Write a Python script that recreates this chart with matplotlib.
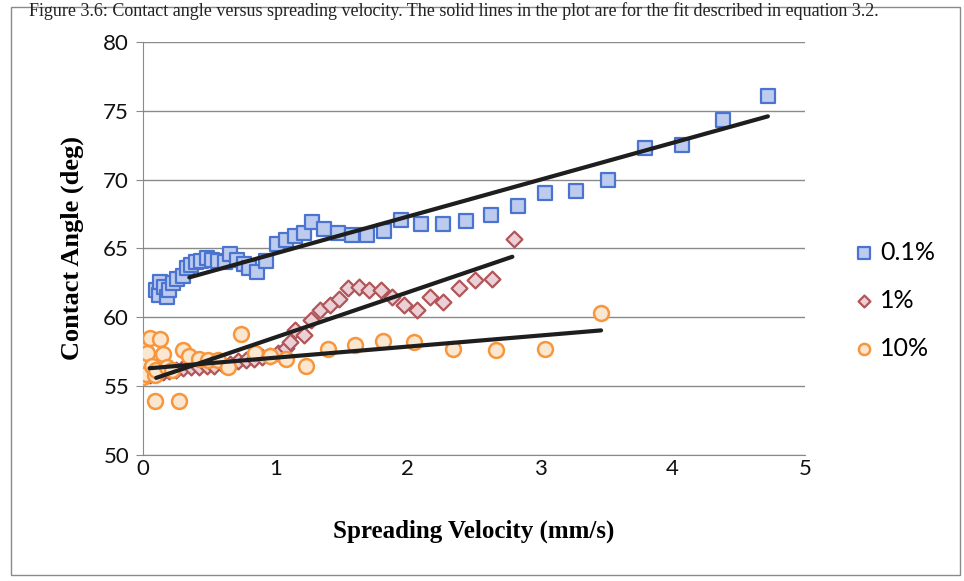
import matplotlib
matplotlib.use("Agg")
import matplotlib.pyplot as plt
from matplotlib.patches import Rectangle

# Data
blue_x = [0.10, 0.12, 0.13, 0.16, 0.18, 0.20, 0.23, 0.26, 0.30, 0.33, 0.36, 0.40, 0.44, 0.48,
          0.52, 0.57, 0.62, 0.66, 0.71, 0.76, 0.80, 0.86, 0.93, 1.01, 1.08, 1.15, 1.22, 1.28,
          1.37, 1.47, 1.58, 1.69, 1.82, 1.95, 2.10, 2.27, 2.44, 2.63, 2.83, 3.04, 3.27, 3.51,
          3.79, 4.07, 4.38, 4.72]
blue_y = [62.0, 61.6, 62.6, 62.2, 61.5, 62.0, 62.5, 62.8, 63.0, 63.6, 63.8, 64.0, 64.1, 64.3,
          64.2, 64.1, 64.0, 64.6, 64.2, 63.9, 63.6, 63.3, 64.1, 65.3, 65.6, 65.9, 66.1, 66.9,
          66.4, 66.1, 66.0, 66.0, 66.3, 67.1, 66.8, 66.8, 67.0, 67.4, 68.1, 69.0, 69.2, 70.0,
          72.3, 72.5, 74.3, 76.1]

red_x = [0.05, 0.10, 0.15, 0.20, 0.25, 0.30, 0.36, 0.42, 0.48, 0.54, 0.60, 0.66, 0.72, 0.78,
         0.84, 0.90, 0.96, 1.02, 1.08, 1.11, 1.15, 1.22, 1.27, 1.34, 1.41, 1.48, 1.55, 1.63,
         1.71, 1.80, 1.88, 1.97, 2.07, 2.17, 2.27, 2.39, 2.51, 2.64, 2.80]
red_y = [55.8, 55.9, 56.0, 56.1, 56.2, 56.3, 56.4, 56.4, 56.5, 56.5, 56.6, 56.6, 56.8, 56.9,
         57.0, 57.1, 57.2, 57.4, 57.8, 58.2, 59.1, 58.7, 59.8, 60.5, 60.9, 61.3, 62.1, 62.2,
         62.0, 62.0, 61.5, 60.9, 60.5, 61.5, 61.1, 62.1, 62.7, 62.8, 65.7]

orange_x = [0.00, 0.00, 0.01, 0.01, 0.02, 0.03, 0.05, 0.07, 0.09, 0.09, 0.10, 0.13, 0.15, 0.18,
            0.22, 0.27, 0.30, 0.35, 0.42, 0.49, 0.57, 0.64, 0.74, 0.85, 0.96, 1.08, 1.23, 1.40,
            1.60, 1.81, 2.05, 2.34, 2.67, 3.04, 3.46]
orange_y = [55.7, 56.3, 56.9, 57.6, 55.9, 57.4, 58.5, 56.5, 55.8, 53.9, 56.2, 58.4, 57.3, 56.4,
            56.2, 53.9, 57.6, 57.2, 57.0, 56.9, 56.9, 56.4, 58.8, 57.4, 57.2, 57.0, 56.5, 57.7,
            58.0, 58.3, 58.2, 57.7, 57.6, 57.7, 60.3]

# fit lines (start / end points as seen on the chart)
fit_blue_x = [0.35, 4.72]
fit_blue_y = [62.9, 74.6]
fit_red_x = [0.10, 2.79]
fit_red_y = [55.6, 64.4]
fit_orange_x = [0.05, 3.46]
fit_orange_y = [56.3, 59.05]

series_labels = ["0.1%", "1%", "10%"]

fig = plt.figure(figsize=(9.64, 5.81), dpi=100)
ax = fig.add_axes([0.1483, 0.2169, 0.835 - 0.1483, 0.9277 - 0.2169])

ax.scatter(blue_x, blue_y, marker="s", s=115, facecolor="#bccbee", edgecolor="#4a74cf",
           linewidth=1.6, zorder=3, label=series_labels[0])
ax.scatter(red_x, red_y, marker="D", s=65, facecolor="#ecd0d8", edgecolor="#b05558",
           linewidth=1.6, zorder=3, label=series_labels[1])
ax.scatter(orange_x, orange_y, marker="o", s=115, facecolor="#fbe6cf", edgecolor="#f7963c",
           linewidth=1.8, zorder=3, label=series_labels[2])

for fx, fy in [(fit_blue_x, fit_blue_y), (fit_red_x, fit_red_y), (fit_orange_x, fit_orange_y)]:
    ax.plot(fx, fy, color="#1e1e1e", linewidth=3.0, solid_capstyle="round", zorder=4)

ax.set_xlim(0, 5)
ax.set_ylim(50, 80)
ax.set_xticks(range(0, 6))
ax.set_yticks(range(50, 81, 5))
ax.yaxis.grid(True, color="#8a8a8a", linewidth=1.0)
ax.set_axisbelow(True)
for side in ["top", "right"]:
    ax.spines[side].set_visible(False)
for side in ["left", "bottom"]:
    ax.spines[side].set_color("#8a8a8a")
ax.tick_params(axis="both", colors="#8a8a8a", labelcolor="#111111", labelsize=16)
ax.tick_params(axis="y", length=5, pad=5)
ax.tick_params(axis="x", length=0, pad=3)
for lab in ax.get_xticklabels() + ax.get_yticklabels():
    lab.set_family("Lato")

ax.set_xlabel("Spreading Velocity (mm/s)", fontsize=18, fontweight="bold",
              family="Liberation Serif", labelpad=29)
ax.set_ylabel("Contact Angle (deg)", fontsize=19, fontweight="bold",
              family="Liberation Serif", labelpad=14)

fig.legend(loc="center left", bbox_to_anchor=(0.8715, 1 - 300 / 581), frameon=False,
           prop={"family": "Lato", "size": 18}, handletextpad=0.2, handlelength=0.9,
           markerscale=0.75, labelspacing=1.0, borderpad=0)

# outer chart border
fig.patches.append(Rectangle((0.011, 0.01), 0.985, 0.978, transform=fig.transFigure,
                             fill=False, edgecolor="#8a8a8a", linewidth=1.0))

# caption text of the page above the chart
fig.text(0.03, 0.9725, "Figure 3.6: Contact angle versus spreading velocity. The solid lines in the plot "
         "are for the fit described in equation 3.2.",
         family="Liberation Serif", fontsize=13, va="baseline", color="#222222")

fig.savefig("out.png", dpi=100)
